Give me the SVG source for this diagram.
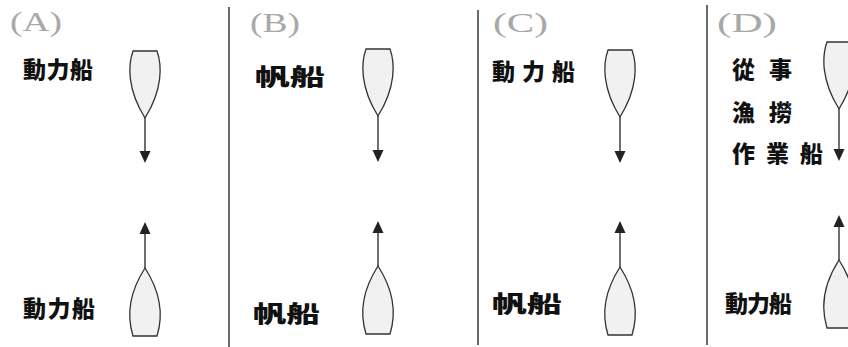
<svg xmlns="http://www.w3.org/2000/svg" width="848" height="347" viewBox="0 0 848 347">
<style>
.lbl{font-family:"Noto Sans CJK TC","Noto Sans CJK SC",sans-serif;font-size:23px;font-weight:900;fill:#111}
.tag{font-family:"Liberation Serif",serif;font-size:27px;fill:#a8a8a8}
.hull{fill:#f1f1f1;stroke:#333;stroke-width:1.3}
.div{stroke:#444;stroke-width:1.6}
.ln{stroke:#222;stroke-width:1.3}
.ah{fill:#222}
</style>
<defs>
<path id="down" d="M-12,0 L12,0 C17,14 18,38 0,67 C-18,38 -17,14 -12,0 Z"/>
<path id="up" d="M-12,0 L12,0 C17,-16 18,-40 0,-68 C-18,-40 -17,-16 -12,0 Z"/>
</defs>
<rect width="848" height="347" fill="#fff"/>
<g id="dividers">
<line class="div" x1="229" y1="7" x2="229" y2="347"/>
<line class="div" x1="478" y1="10" x2="478" y2="345"/>
<line class="div" x1="707" y1="5" x2="707" y2="345"/>
</g>
<g id="panelA">
<text class="tag" x="10" y="31" textLength="52" lengthAdjust="spacingAndGlyphs">(A)</text>
<text class="lbl" x="23" y="78" textLength="70" lengthAdjust="spacing">動力船</text>
<text class="lbl" x="23" y="317" textLength="72" lengthAdjust="spacing">動力船</text>
<use href="#down" class="hull" x="145" y="51"/>
<use href="#up" class="hull" x="145" y="336"/>
</g>
<g id="panelB">
<text class="tag" x="250" y="32" textLength="50" lengthAdjust="spacingAndGlyphs">(B)</text>
<text class="lbl" x="255" y="85" textLength="70" lengthAdjust="spacingAndGlyphs">帆船</text>
<text class="lbl" x="253" y="322" textLength="67" lengthAdjust="spacingAndGlyphs">帆船</text>
<use href="#down" class="hull" x="378" y="49"/>
<use href="#up" class="hull" x="378" y="334"/>
</g>
<g id="panelC">
<text class="tag" x="493" y="32" textLength="55" lengthAdjust="spacingAndGlyphs">(C)</text>
<text class="lbl" x="492" y="80" textLength="83" lengthAdjust="spacing">動力船</text>
<text class="lbl" x="492" y="312" textLength="70" lengthAdjust="spacingAndGlyphs">帆船</text>
<use href="#down" class="hull" x="620" y="50"/>
<use href="#up" class="hull" x="620" y="335"/>
</g>
<g id="panelD">
<text class="tag" x="717" y="32" textLength="60" lengthAdjust="spacingAndGlyphs">(D)</text>
<text class="lbl" x="732" y="78" textLength="60" lengthAdjust="spacing">從事</text>
<text class="lbl" x="732" y="121" textLength="60" lengthAdjust="spacing">漁撈</text>
<text class="lbl" x="732" y="162" textLength="91" lengthAdjust="spacing">作業船</text>
<text class="lbl" x="725" y="312" textLength="67" lengthAdjust="spacing">動力船</text>
<use href="#down" class="hull" x="839" y="42"/>
<use href="#up" class="hull" x="839" y="328"/>
</g>
<g id="connectors">
<line class="ln" x1="145" y1="118" x2="145" y2="152"/>
<polygon class="ah" points="139.5,151 150.5,151 145,163"/>
<line class="ln" x1="145" y1="268" x2="145" y2="234"/>
<polygon class="ah" points="139.5,234 150.5,234 145,222"/>
<line class="ln" x1="378" y1="116" x2="378" y2="151"/>
<polygon class="ah" points="372.5,150 383.5,150 378,162"/>
<line class="ln" x1="378" y1="266" x2="378" y2="233"/>
<polygon class="ah" points="372.5,233 383.5,233 378,221"/>
<line class="ln" x1="620" y1="117" x2="620" y2="152"/>
<polygon class="ah" points="614.5,151 625.5,151 620,163"/>
<line class="ln" x1="620" y1="267" x2="620" y2="233"/>
<polygon class="ah" points="614.5,233 625.5,233 620,221"/>
<line class="ln" x1="839" y1="109" x2="839" y2="150"/>
<polygon class="ah" points="833.5,149 844.5,149 839,161"/>
<line class="ln" x1="839" y1="260" x2="839" y2="227"/>
<polygon class="ah" points="833.5,227 844.5,227 839,215"/>
</g>
</svg>
